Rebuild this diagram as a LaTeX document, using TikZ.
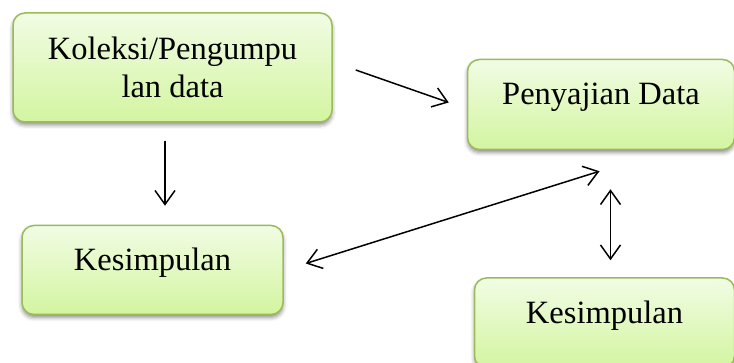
\documentclass[tikz,border=0pt]{standalone}
\usepackage{fontspec}
\setmainfont{Liberation Serif}
\usetikzlibrary{arrows.meta, positioning, shadows.blur}
\usepackage{xcolor}
\definecolor{hijauGaris}{HTML}{9BBB59}
\definecolor{hijauAtas}{HTML}{F1FCE4}
\definecolor{hijauBawah}{HTML}{D3F5A0}

\begin{document}
\begin{tikzpicture}[x=1pt, y=1pt, font=\fontsize{32.5}{38}\selectfont]

  % styles
  \tikzstyle{tahap} = [rectangle, rounded corners=12pt, draw=hijauGaris, line width=1.5pt, top color=hijauAtas, bottom color=hijauBawah, align=center, inner sep=0pt, blur shadow={shadow xshift=0pt, shadow yshift=-3pt, shadow blur radius=4pt, shadow opacity=45}]
  \tikzstyle{naik} = [text height=20pt, text depth=19pt]
  \tikzstyle{arrow} = [line width=1.5pt, >={Straight Barb[length=14pt, width=20pt, line width=1.5pt]}, ->]

  \useasboundingbox (0,0) rectangle (734,363);

  % koleksi
  \node (koleksi) [tahap, minimum width=319pt, minimum height=109pt] at (172.5,295.5) {Koleksi/Pengumpu\\lan data};

  % penyajian
  \node (sajian) [tahap, naik, minimum width=267pt, minimum height=90pt, anchor=north west, below right=-64pt and 134pt of koleksi] {Penyajian Data};

  % kesimpulan
  \node (simpul1) [tahap, naik, minimum width=261pt, minimum height=89pt, below=102pt of koleksi, xshift=-20pt] {Kesimpulan};
  \node (simpul2) [tahap, naik, minimum width=260pt, minimum height=90pt, below=127pt of sajian, xshift=3.5pt] {Kesimpulan};

  % arrows
  \draw [arrow] ([xshift=23pt, yshift=-2.5pt]koleksi.east) -- ([xshift=-18pt, yshift=2pt]sajian.west);
  \draw [arrow] ([xshift=-7.5pt, yshift=-18pt]koleksi.south) -- ([xshift=12.5pt, yshift=19pt]simpul1.north);
  \draw [arrow, <->] ([xshift=22pt, yshift=6.5pt]simpul1.east) -- ([xshift=-1.5pt, yshift=-21pt]sajian.south);
  \draw [arrow, <->] ([xshift=9.5pt, yshift=-39pt]sajian.south) -- ([xshift=6pt, yshift=17pt]simpul2.north);

\end{tikzpicture}
\end{document}
